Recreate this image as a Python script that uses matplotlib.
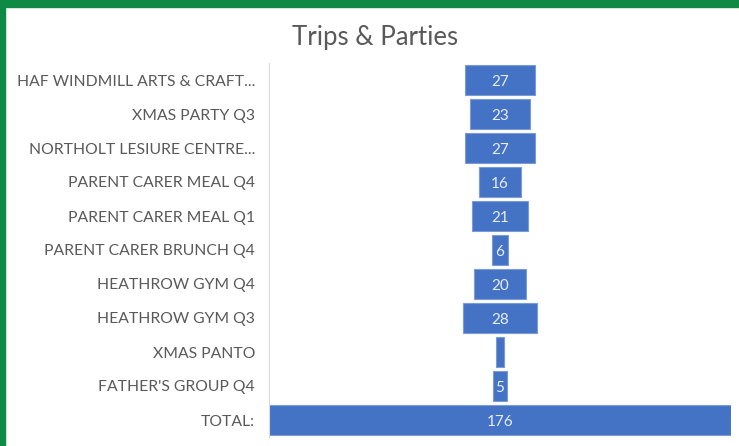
import matplotlib
matplotlib.use("Agg")
import matplotlib.pyplot as plt
from matplotlib.patches import Rectangle

categories = [
    "HAF WINDMILL ARTS & CRAFT...",
    "XMAS PARTY Q3",
    "NORTHOLT LESIURE CENTRE...",
    "PARENT CARER MEAL Q4",
    "PARENT CARER MEAL Q1",
    "PARENT CARER BRUNCH Q4",
    "HEATHROW GYM Q4",
    "HEATHROW GYM Q3",
    "XMAS PANTO",
    "FATHER'S GROUP Q4",
    "TOTAL:",
]
values = [27, 23, 27, 16, 21, 6, 20, 28, 3, 5, 176]
title = "Trips & Parties"

W, H = 739, 446
fig = plt.figure(figsize=(W / 100, H / 100), dpi=100)
fig.patch.set_facecolor("white")

font = "Lato"
ax = fig.add_axes([269 / W, 1 - 437 / H, (731 - 269) / W, (437 - 63) / H])
maxv = max(values)
y = list(range(len(categories)))
lefts = [(maxv - v) / 2 for v in values]
ax.barh(y, values, left=lefts, height=0.9, color="#4472C4",
        edgecolor="#7B9BD6", linewidth=0.8)
ax.set_xlim(0, maxv)
ax.set_ylim(len(categories) - 0.5, -0.5)
ax.set_yticks(y)
ax.set_yticklabels(categories, fontsize=11.3, color="#595959", family=font)
ax.tick_params(axis="y", length=0, pad=10)
ax.set_xticks([])
for s in ["top", "right", "bottom"]:
    ax.spines[s].set_visible(False)
ax.spines["left"].set_color("#D9D9D9")
ax.spines["left"].set_linewidth(0.8)

for yi, v, l in zip(y, values, lefts):
    if v >= 4:
        ax.text(l + v / 2, yi, str(v), ha="center", va="center_baseline",
                fontsize=11, color="#E8EDF7", family=font)

fig.text(375 / W, 1 - 38 / H, title, ha="center", va="center",
         fontsize=18.5, color="#595959", family=font)

green = "#0F8A44"
fig.patches.append(Rectangle((0, 1 - 7 / H), 1, 7 / H, transform=fig.transFigure,
                             color=green, zorder=10))
fig.patches.append(Rectangle((0, 0), 5 / W, 1, transform=fig.transFigure,
                             color=green, zorder=10))

fig.savefig("out.png", dpi=100)
